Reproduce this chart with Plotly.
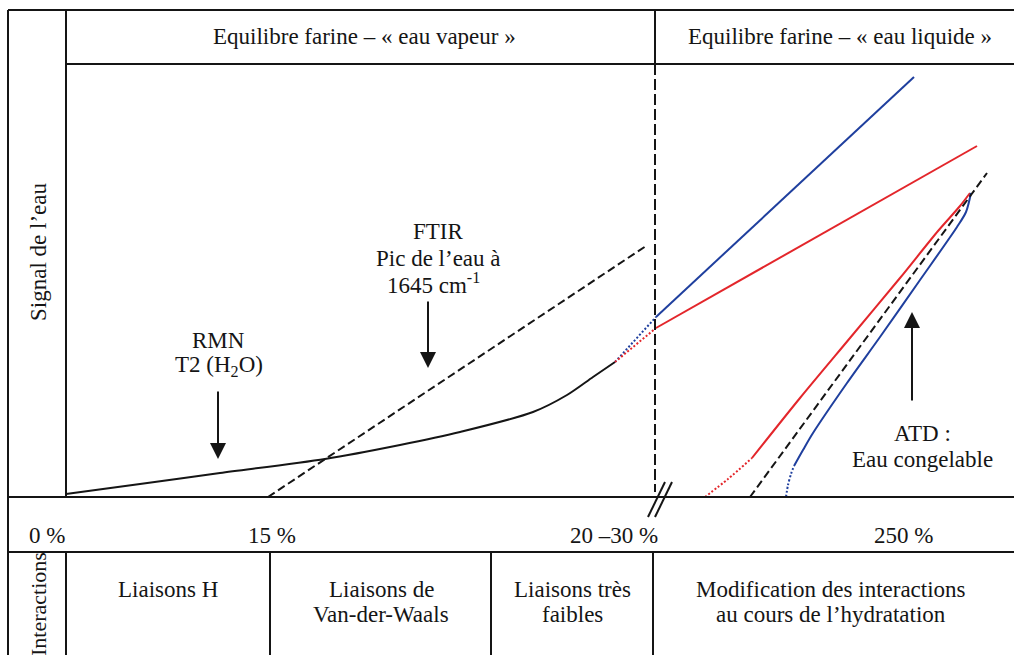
import plotly.graph_objects as go

# ---- curve data (diagram coordinates: x to the right, y downward) ----
rmn_x = [66, 140, 220, 325, 400, 460, 533, 567, 593, 615]
rmn_y = [494, 484, 473, 459, 445, 432, 412, 395, 377, 362]

ftir_x = [268, 646]
ftir_y = [497, 246]

# transitions from the RMN curve to the liquid-water lines
blue_link_x = [615, 656]
blue_link_y = [362, 317]
red_link_x = [615, 656]
red_link_y = [362, 328]

blue_top_x = [656, 914]
blue_top_y = [317, 77]
red_top_x = [656, 977]
red_top_y = [328, 146]

# freezable-water bundle (ATD)
red_atd_dot_x = [705, 728, 752]
red_atd_dot_y = [497, 479, 458]
red_atd_x = [752, 800, 850, 900, 938, 960, 970]
red_atd_y = [458, 398, 338, 278, 231, 206, 193]

blue_atd_dot_x = [786, 788, 791, 794]
blue_atd_dot_y = [497, 485, 474, 466]
blue_atd_x = [794, 803, 813, 847, 880, 920, 957, 966, 971]
blue_atd_y = [466, 450, 433, 383, 337, 280, 227, 212, 193]

atd_dash_x = [750, 987]
atd_dash_y = [497, 173]

# ---- text labels ----
header_labels = ["Equilibre farine – « eau vapeur »", "Equilibre farine – « eau liquide »"]
header_x = [364, 840]

percent_labels = ["0 %", "15 %", "20 –30 %", "250 %"]
percent_x = [47, 272, 614, 903]

interaction_line1 = ["Liaisons H", "Liaisons de", "Liaisons très", "Modification des interactions"]
interaction_line2 = ["", "Van-der-Waals", "faibles", "au cours de l’hydratation"]
interaction_x = [168, 381, 572, 831]

probe_labels = [
    ("RMN", 218, 340), ("T2 (H<sub>2</sub>O)", 219, 366),
    ("FTIR", 438, 231), ("Pic de l’eau à", 438, 258), ("1645 cm<sup>-1</sup>", 433, 283),
    ("ATD :", 922, 433), ("Eau congelable", 922, 459),
]

# arrows: (x, tip_y, tail_y)
arrows = [(218, 459, 390), (428, 368, 300), (912, 312, 402)]

BLUE = "#1f3f9e"
RED = "#e3262b"
INK = "#151515"
FONT = "Liberation Serif"
FS = 23

fig = go.Figure()


def add_line(x, y, color, width=2, dash=None, shape="linear"):
    fig.add_trace(go.Scatter(
        x=x, y=y, mode="lines",
        line=dict(color=color, width=width, dash=dash, shape=shape, smoothing=0.8),
        hoverinfo="skip", showlegend=False,
    ))


add_line(rmn_x, rmn_y, INK, shape="spline")
add_line(ftir_x, ftir_y, INK, dash="8px,4px")
add_line(blue_link_x, blue_link_y, BLUE, dash="2px,2px")
add_line(red_link_x, red_link_y, RED, dash="2px,2px")
add_line(blue_top_x, blue_top_y, BLUE)
add_line(red_top_x, red_top_y, RED)
add_line(red_atd_dot_x, red_atd_dot_y, RED, dash="2px,2px", shape="spline")
add_line(red_atd_x, red_atd_y, RED, shape="spline")
add_line(blue_atd_dot_x, blue_atd_dot_y, BLUE, dash="2px,2px", shape="spline")
add_line(blue_atd_x, blue_atd_y, BLUE, shape="spline")
add_line(atd_dash_x, atd_dash_y, INK, dash="8px,4px")

# ---- table frame ----
frame = [
    (8, 10, 1014, 10), (8, 10, 8, 655),
    (66, 10, 66, 497), (66, 552, 66, 655),
    (66, 64, 1014, 64), (655, 10, 655, 64),
    (8, 497, 1014, 497), (8, 552, 1014, 552),
    (270, 552, 270, 655), (491, 552, 491, 655), (653, 552, 653, 655),
    # axis break marks
    (665, 482, 648, 517), (672, 482, 655, 517),
]
for x0, y0, x1, y1 in frame:
    fig.add_shape(type="line", x0=x0, y0=y0, x1=x1, y1=y1,
                  line=dict(color=INK, width=2), layer="above")
fig.add_shape(type="line", x0=655, y0=64, x1=655, y1=492,
              line=dict(color=INK, width=2, dash="11px,4px"))


def add_text(txt, x, y, angle=0, size=FS):
    fig.add_annotation(x=x, y=y, text=txt, showarrow=False, textangle=angle,
                       xanchor="center", yanchor="middle",
                       font=dict(family=FONT, size=size, color=INK))


for t, x in zip(header_labels, header_x):
    add_text(t, x, 36)
for t, x in zip(percent_labels, percent_x):
    add_text(t, x, 535)
for t1, t2, x in zip(interaction_line1, interaction_line2, interaction_x):
    add_text(t1, x, 589)
    if t2:
        add_text(t2, x, 614)
for t, x, y in probe_labels:
    add_text(t, x, y)
add_text("Signal de l’eau", 38, 252, angle=-90)
add_text("Interactions", 38, 604, angle=-90, size=22)

for x, tip, tail in arrows:
    fig.add_annotation(x=x, y=tip, ax=x, ay=tail, xref="x", yref="y",
                       axref="x", ayref="y", text="", showarrow=True,
                       arrowhead=2, arrowsize=1.6, arrowwidth=2, arrowcolor=INK,
                       standoff=0, startstandoff=0)

fig.update_layout(
    width=1014, height=655,
    margin=dict(l=0, r=0, t=0, b=0),
    paper_bgcolor="white", plot_bgcolor="white",
    xaxis=dict(range=[0, 1014], visible=False, fixedrange=True),
    yaxis=dict(range=[655, 0], visible=False, fixedrange=True),
    showlegend=False,
)

fig.write_html("out.html", config={"displayModeBar": False})
